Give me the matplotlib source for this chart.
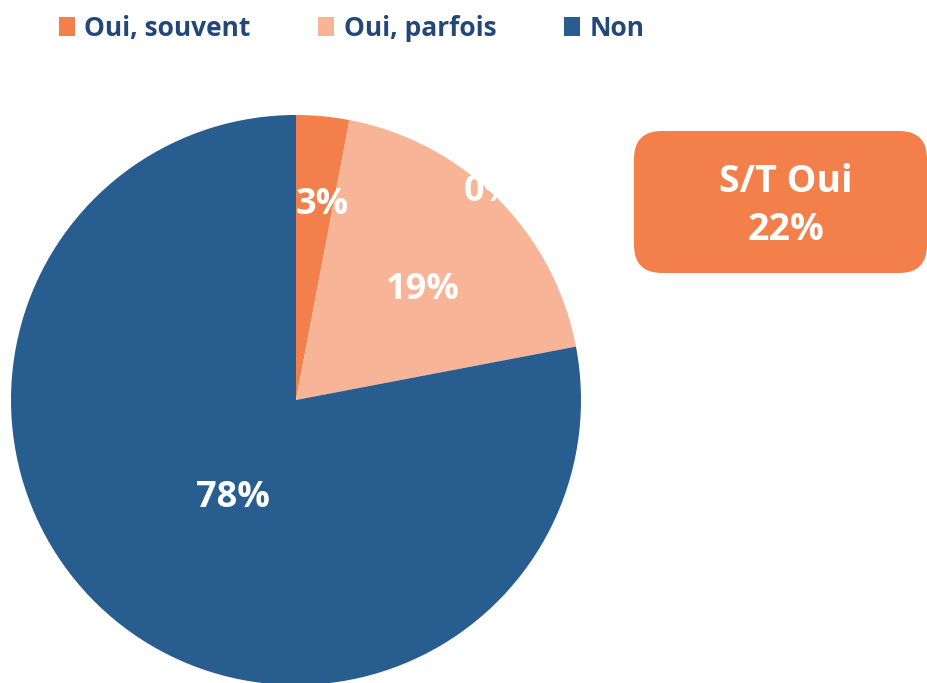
import numpy as np
import matplotlib.pyplot as plt
from matplotlib.patches import FancyBboxPatch, Patch

plt.rcParams['font.family'] = ['Open Sans', 'DejaVu Sans']
plt.rcParams['font.weight'] = 'bold'

# data
categories = ['Oui, souvent', 'Oui, parfois', 'Non']
values = [3, 19, 78]
labels = ['3%', '19%', '78%']
colors = ['#F3804A', '#F7B497', '#275D8F']
total_label = 'S/T Oui\n22%'
stray_label = '0%'

W, H = 928, 683
fig = plt.figure(figsize=(W / 100, H / 100), dpi=100)

# pie axes, centre (296, 400) px, radius 285 px
cx, cy, r = 296, 400, 285
ax = fig.add_axes([(cx - r) / W, (H - cy - r) / H, 2 * r / W, 2 * r / H])
wedges, _ = ax.pie(values, colors=colors, startangle=90, counterclock=False,
                   radius=1, wedgeprops=dict(linewidth=0))
ax.set_xlim(-1, 1)
ax.set_ylim(-1, 1)
ax.set_aspect('equal')
ax.axis('off')

# data labels (excel "best fit" style positions)
label_pos = [(0.69, -2.2), (0.59, -4.2), (0.41, 6.9)]
for w, lab, (dist, dang) in zip(wedges, labels, label_pos):
    ang = np.deg2rad((w.theta1 + w.theta2) / 2 + dang)
    ax.text(dist * np.cos(ang), dist * np.sin(ang), lab, color='white',
            fontsize=26, fontweight='bold', ha='center', va='center')

# leftover zero label, mostly white-on-white
ang = np.deg2rad(90 - 43)
ax.text(1.0 * np.cos(ang), 1.0 * np.sin(ang), stray_label, color='white',
        fontsize=26, fontweight='bold', ha='center', va='center')

# legend
handles = [Patch(facecolor=c, edgecolor='none') for c in colors]
leg = fig.legend(handles, categories, loc='upper left', ncol=3, frameon=False,
                 bbox_to_anchor=(35 / W, 1.0 + 9 / H), fontsize=19,
                 handlelength=0.62, handleheight=0.7, handletextpad=0.35,
                 columnspacing=2.55)
for t in leg.get_texts():
    t.set_color('#24477A')
    t.set_fontweight('bold')

# S/T box (runs slightly off the right edge)
bx0, by0, bx1, by1 = 634, 131, 927, 273
box = FancyBboxPatch((bx0 / W, 1 - by1 / H), (bx1 - bx0) / W, (by1 - by0) / H,
                     boxstyle='round,pad=0,rounding_size=0.03',
                     transform=fig.transFigure, facecolor='#F3804A',
                     edgecolor='none', mutation_aspect=W / H)
fig.patches.append(box)
fig.text(786 / W, 1 - 206 / H, total_label,
         color='white', fontsize=27, fontweight='bold', ha='center',
         va='center', linespacing=1.35)

fig.savefig('out.png', dpi=100)
